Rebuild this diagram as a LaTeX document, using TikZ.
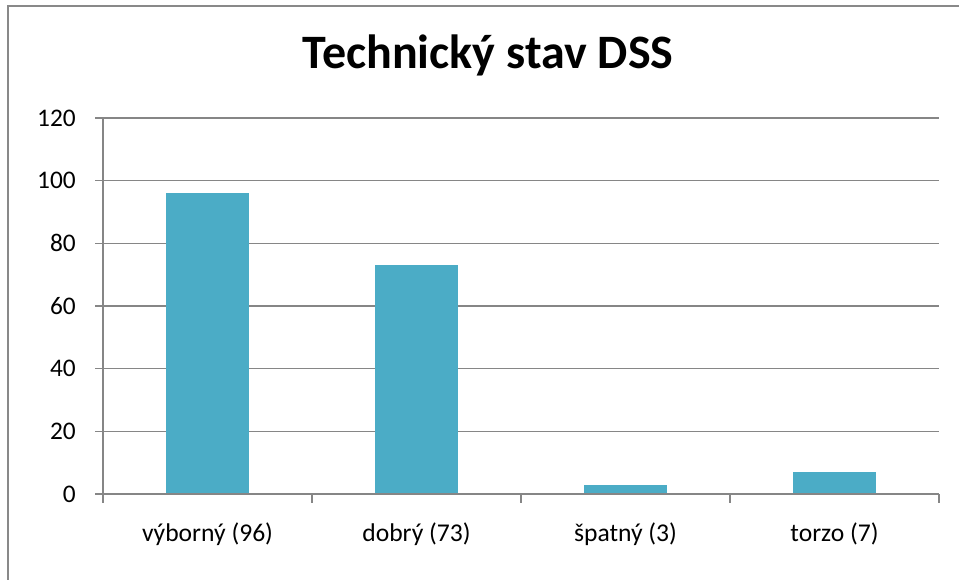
\documentclass[tikz,border=0pt]{standalone}
\usepackage{fontspec}
\setmainfont{Carlito}
\definecolor{barc}{HTML}{4BACC6}
\definecolor{gridc}{HTML}{868686}
\definecolor{framec}{HTML}{898989}
\begin{document}
\begin{tikzpicture}[x=0.75pt,y=-0.75pt,
  grid/.style={draw=gridc,line width=0.9pt},
  axisline/.style={draw=gridc,line width=1.1pt},
  bar/.style={fill=barc,draw=none},
  ticklbl/.style={anchor=east,inner sep=0pt,font=\fontsize{19}{22}\selectfont},
  catlbl/.style={anchor=base,inner sep=0pt,font=\fontsize{19.2}{22}\selectfont},
  titlelbl/.style={anchor=base,inner sep=0pt,font=\fontsize{36}{40}\selectfont\bfseries}]
\useasboundingbox (0,0) rectangle (959,579);
\fill[white] (0,0) rectangle (959,579);
\draw[draw=framec,line width=1.5pt] (8,6) rectangle (980,600);
\node[titlelbl] (title) at (488,68) {Technický stav DSS};
% gridlines
\foreach \v in {20,40,...,120}{
  \draw[grid] (95,{494-3.1333*\v}) -- (939,{494-3.1333*\v});
  \node[ticklbl] (t\v) at (76,{494-3.1333*\v}) {\v};
}
\node[ticklbl] (t0) at (76,494) {0};
% bars
\foreach \c/\v/\n in {207.5/96/a,416.5/73/b,625.5/3/c,834.5/7/d}{
  \fill[bar] ({\c-41.5},494) rectangle ({\c+41.5},{494-3.1333*\v});
}
% axes
\draw[axisline] (103,118) -- (103,503);
\draw[axisline] (95,494) -- (939,494);
\foreach \x in {312,521,730,939}{
  \draw[axisline] (\x,494) -- (\x,503);
}
\node[catlbl] (c1) at (207.5,541) {výborný (96)};
\node[catlbl] (c2) at (416.5,541) {dobrý (73)};
\node[catlbl] (c3) at (625.5,541) {špatný (3)};
\node[catlbl] (c4) at (834.5,541) {torzo (7)};
\end{tikzpicture}
\end{document}
